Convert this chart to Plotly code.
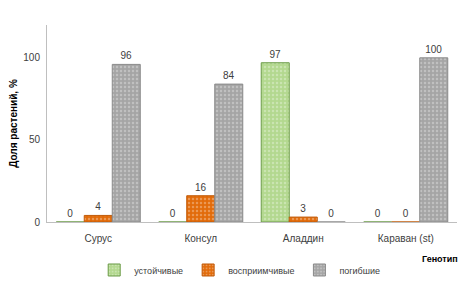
import plotly.graph_objects as go

categories = ["Сурус", "Консул", "Аладдин", "Караван (st)"]
resistant = [0, 0, 97, 0]
susceptible = [4, 16, 3, 0]
dead = [96, 84, 0, 100]
series_names = ["устойчивые", "восприимчивые", "погибшие"]

fill_colors = ["#b3d88f", "#e26b0a", "#a5a5a5"]
line_colors = ["#6a9a46", "#c05a08", "#8a8a8a"]

fig = go.Figure()
for name, vals, fc, lc in zip(series_names, [resistant, susceptible, dead], fill_colors, line_colors):
    fig.add_trace(go.Bar(
        x=categories, y=vals, name=name,
        marker=dict(color=fc, line=dict(color=lc, width=1),
                    pattern=dict(shape=".", fgcolor="rgba(255,255,255,0.6)", size=4, solidity=0.3)),
        text=[str(v) for v in vals], textposition="outside",
        textfont=dict(size=10, color="#404040", family="Liberation Sans"),
        cliponaxis=False,
    ))

# the page body adds an 8px left margin, so the figure is 8px narrower
fig.update_layout(
    width=458, height=286,
    margin=dict(l=39, r=9, t=17, b=64),
    paper_bgcolor="white", plot_bgcolor="white",
    barmode="group", bargap=0.18, bargroupgap=0,
    font=dict(family="Liberation Sans", size=10, color="#404040"),
    showlegend=True,
    legend=dict(orientation="h", x=0.47, xanchor="center", y=-0.17, yanchor="top",
                font=dict(size=9, color="#404040"), itemwidth=30, traceorder="normal"),
    xaxis=dict(showline=True, linecolor="#bfbfbf", linewidth=1, ticks="", showgrid=False,
               automargin=False, ticklabelstandoff=7, tickfont=dict(size=10, color="#404040")),
    yaxis=dict(range=[0, 120], tickvals=[0, 50, 100], showline=True, linecolor="#bfbfbf",
               linewidth=1, ticks="", showgrid=False, zeroline=False, automargin=False,
               ticklabelstandoff=4, tickfont=dict(size=10, color="#404040"),
               title=dict(text="<b>Доля растений, %</b>", font=dict(size=10, color="#000000"), standoff=9)),
    annotations=[dict(text="<b>Генотип</b>", xref="paper", yref="paper", x=1.007, y=-0.19,
                      xanchor="right", yanchor="middle", showarrow=False,
                      font=dict(size=9, color="#000000"))],
)

fig.write_html("out.html")
